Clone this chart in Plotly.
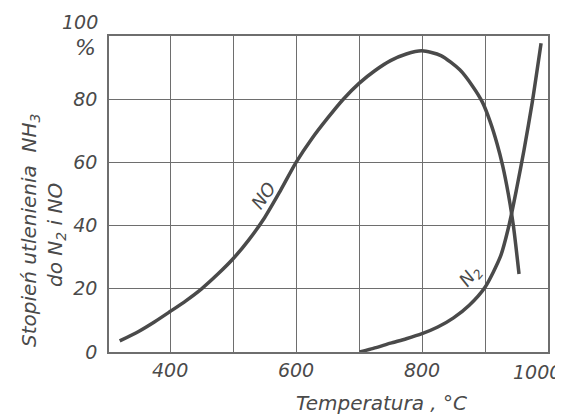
import plotly.graph_objects as go

# Data
no_temp = [320, 350, 375, 400, 425, 450, 475, 500, 525, 550, 575, 600, 625, 650, 675, 700,
           725, 750, 775, 800, 830, 860, 880, 896, 908, 919, 928, 937, 945, 954]
no_value = [3.5, 6.5, 9.5, 12.8, 16.2, 20, 24.5, 29.5, 35.5, 42.5, 51, 60, 67.5, 74, 80, 85,
            89, 92.2, 94.3, 95.3, 93.8, 89.3, 84.2, 79, 73, 66, 59, 50, 40, 24.7]

n2_temp = [701, 725, 750, 775, 800, 825, 850, 875, 900, 925, 938, 950, 962, 975, 989]
n2_value = [0, 1.3, 2.8, 4.2, 5.8, 7.9, 10.8, 14.8, 20.5, 30.5, 40, 51.5, 64, 79, 97.7]

x_tickvals = [400, 500, 600, 700, 800, 900, 1000]
x_ticktext = ["400", "", "600", "", "800", "", ""]
y_tickvals = [0, 20, 40, 60, 80]
y_ticktext = ["0", "20", "40", "60", "80"]

INK = "#4a4a4a"
GRID = "#6e6e6e"
FONT = "DejaVu Sans, Liberation Sans, sans-serif"

# page has an 8px body margin; plot area wanted at page px 109..548 x 36..352
OFF = 8
PL, PT, PR, PB = 109, 36, 548, 352
FW, FH = 563 - OFF, 419 - OFF
W, H = PR - PL, PB - PT


def px(x, y):
    return (x - PL) / W, 1 - (y - PT) / H


fig = go.Figure()
fig.add_trace(go.Scatter(x=no_temp, y=no_value, mode="lines",
                         line=dict(color=INK, width=3.5, shape="spline", smoothing=0.7),
                         showlegend=False, hoverinfo="skip"))
fig.add_trace(go.Scatter(x=n2_temp, y=n2_value, mode="lines",
                         line=dict(color=INK, width=3.5, shape="spline", smoothing=0.7),
                         showlegend=False, hoverinfo="skip"))

anns = []


def ann(text, x, y, size=19, angle=0, xanchor="center", yanchor="middle"):
    ax, ay = px(x, y)
    anns.append(dict(text=text, x=ax, y=ay, xref="paper", yref="paper", showarrow=False,
                     textangle=angle, xanchor=xanchor, yanchor=yanchor,
                     font=dict(size=size, color=INK, family=FONT, style="italic")))


ann("100", 100, 22, xanchor="right")
ann("%", 98, 48, size=22, xanchor="right")
ann("1000", 563, 372, xanchor="right")
ann("Stopień utlenienia  NH<sub>3</sub>", 30, 231, size=20, angle=-90)
ann("do N<sub>2</sub> i NO", 56, 235, size=20, angle=-90)
ann("Temperatura , °C", 381, 403, size=20)
ann("NO", 263, 195, size=18, angle=-55)
ann("N<sub>2</sub>", 470, 277, size=18, angle=-50)

fig.update_layout(
    width=FW, height=FH,
    margin=dict(l=PL - OFF, r=FW - (PR - OFF), t=PT - OFF, b=FH - (PB - OFF)),
    paper_bgcolor="white", plot_bgcolor="white",
    font=dict(family=FONT, size=19, color=INK, style="italic"),
    xaxis=dict(range=[303, 1000], tickvals=x_tickvals, ticktext=x_ticktext,
               showgrid=True, gridcolor=GRID, gridwidth=1,
               showline=True, linecolor=GRID, linewidth=1.5, mirror=True,
               ticks="", zeroline=False, tickfont=dict(size=19, color=INK)),
    yaxis=dict(range=[0, 100], tickvals=y_tickvals, ticktext=y_ticktext,
               showgrid=True, gridcolor=GRID, gridwidth=1,
               showline=True, linecolor=GRID, linewidth=1.5, mirror=True,
               ticks="", zeroline=False, ticklabelstandoff=6,
               tickfont=dict(size=19, color=INK)),
    annotations=anns,
)

fig.write_html("out.html")
